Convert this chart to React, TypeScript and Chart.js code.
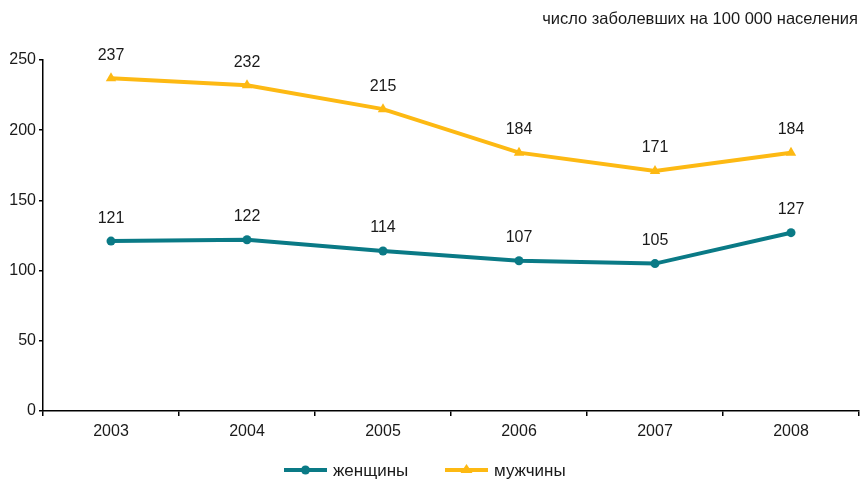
import React, { useEffect, useRef } from "react";
import { Chart, registerables } from "chart.js";

Chart.register(...registerables);

const years = ["2003", "2004", "2005", "2006", "2007", "2008"];
const women = [121, 122, 114, 107, 105, 127];
const men = [237, 232, 215, 184, 171, 184];
const seriesNames = ["женщины", "мужчины"];
const unitTitle = "число заболевших на 100 000 населения";

const TEAL = "#0A7A86";
const ORANGE = "#FDB913";
const FONT = "'Liberation Sans', Arial, sans-serif";

const labelPlugin = {
  id: "extras",
  afterDatasetsDraw(chart: any) {
    const ctx = chart.ctx;
    ctx.save();
    ctx.font = `16px ${FONT}`;
    ctx.fillStyle = "#1a1a1a";
    ctx.textAlign = "center";
    ctx.textBaseline = "middle";
    chart.data.datasets.forEach((ds: any, i: number) => {
      const meta = chart.getDatasetMeta(i);
      meta.data.forEach((pt: any, j: number) => {
        ctx.fillText(String(ds.data[j]), pt.x, pt.y - 23);
      });
    });
    // title
    ctx.textAlign = "right";
    ctx.font = `16.5px ${FONT}`;
    ctx.fillText(unitTitle, 858, 19);
    // legend
    const items = [
      { name: seriesNames[0], color: TEAL, shape: "circle", x: 284 },
      { name: seriesNames[1], color: ORANGE, shape: "triangle", x: 445 },
    ];
    const ly = 470;
    items.forEach((it) => {
      ctx.strokeStyle = it.color;
      ctx.fillStyle = it.color;
      ctx.lineWidth = 4;
      ctx.beginPath();
      ctx.moveTo(it.x, ly);
      ctx.lineTo(it.x + 43, ly);
      ctx.stroke();
      const cx = it.x + 21.5;
      ctx.beginPath();
      if (it.shape === "circle") {
        ctx.arc(cx, ly, 4.5, 0, Math.PI * 2);
      } else {
        ctx.moveTo(cx, ly - 6);
        ctx.lineTo(cx + 6, ly + 3);
        ctx.lineTo(cx - 6, ly + 3);
        ctx.closePath();
      }
      ctx.fill();
      ctx.fillStyle = "#1a1a1a";
      ctx.textAlign = "left";
      ctx.font = `17px ${FONT}`;
      ctx.fillText(it.name, it.x + 49, ly + 1);
    });
    ctx.restore();
  },
};

export default function App() {
  const ref = useRef<HTMLCanvasElement>(null);
  useEffect(() => {
    if (!ref.current) return;
    const chart = new Chart(ref.current, {
      type: "line",
      data: {
        labels: years,
        datasets: [
          {
            label: seriesNames[0],
            data: women,
            borderColor: TEAL,
            backgroundColor: TEAL,
            borderWidth: 4,
            pointStyle: "circle",
            pointRadius: 4.5,
            pointBorderWidth: 0,
            tension: 0,
          },
          {
            label: seriesNames[1],
            data: men,
            borderColor: ORANGE,
            backgroundColor: ORANGE,
            borderWidth: 4,
            pointStyle: "triangle",
            pointRadius: 6,
            pointBorderWidth: 0,
            tension: 0,
          },
        ],
      },
      options: {
        animation: false,
        responsive: false,
        maintainAspectRatio: false,
        layout: { padding: { top: 60, right: 7, bottom: 39, left: 0 } },
        plugins: {
          legend: { display: false },
          tooltip: { enabled: false },
        },
        scales: {
          x: {
            offset: true,
            grid: {
              offset: true,
              drawOnChartArea: false,
              drawTicks: true,
              tickLength: 5,
              color: "#000",
              lineWidth: 1.5,
            },
            border: { color: "#000", width: 1.5 },
            ticks: {
              color: "#1a1a1a",
              font: { family: FONT, size: 16 },
              padding: 6,
            },
            afterFit(scale: any) {
              scale.height = 30;
            },
          },
          y: {
            min: 0,
            max: 250,
            grid: {
              drawOnChartArea: false,
              drawTicks: true,
              tickLength: 4,
              color: "#000",
              lineWidth: 1.5,
            },
            border: { color: "#000", width: 1.5 },
            ticks: {
              stepSize: 50,
              color: "#1a1a1a",
              font: { family: FONT, size: 16 },
              padding: 3,
            },
            afterFit(scale: any) {
              scale.width = 43;
            },
          },
        },
      },
      plugins: [labelPlugin],
    });
    return () => chart.destroy();
  }, []);
  return (
    <div style={{ position: "fixed", left: 0, top: 0, width: 866, height: 480, background: "#fff" }}>
      <canvas ref={ref} width={866} height={480} />
    </div>
  );
}
